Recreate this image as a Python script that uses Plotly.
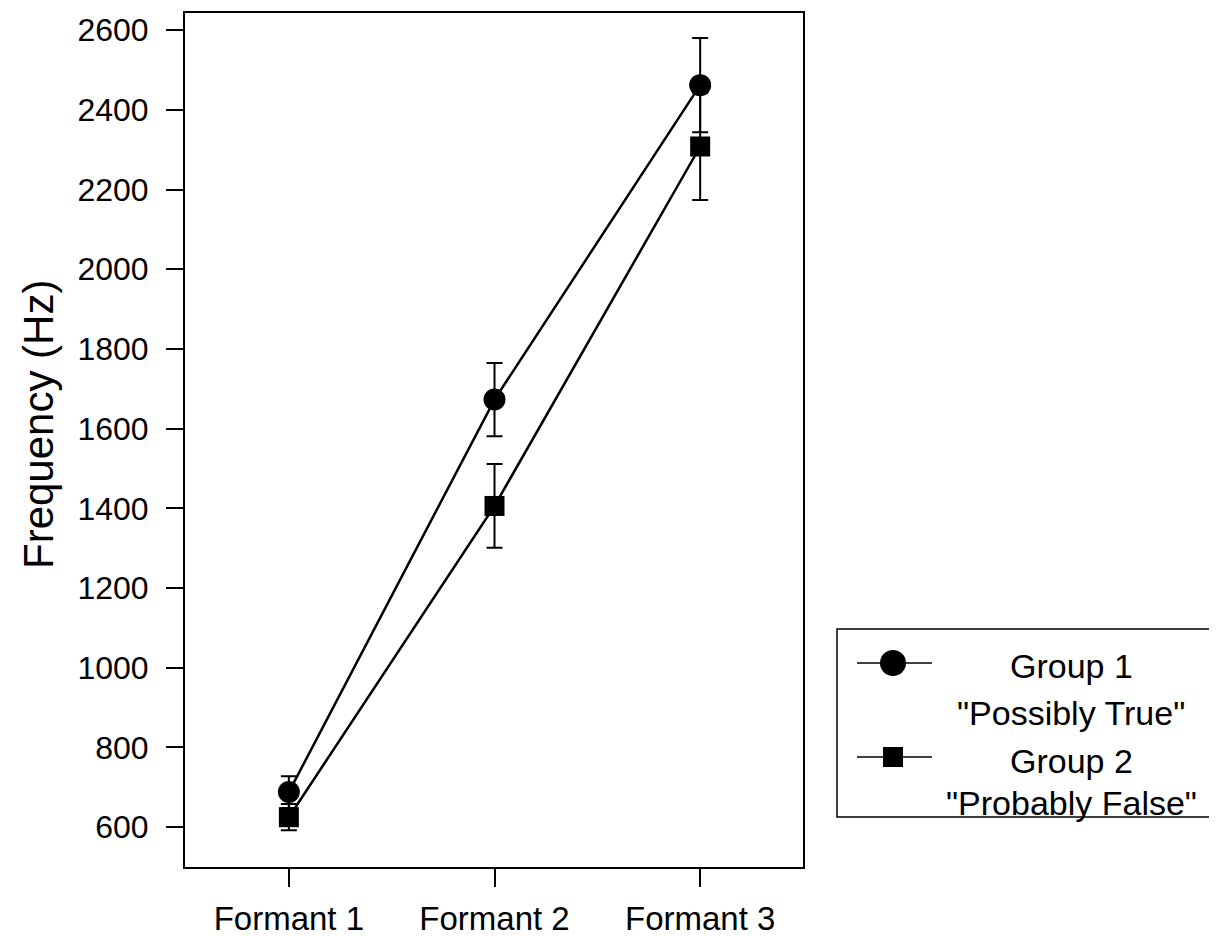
import plotly.graph_objects as go

categories = ["Formant 1", "Formant 2", "Formant 3"]
group1_mean = [688, 1673, 2462]
group1_err = [40, 92, 118]
group2_mean = [625, 1406, 2308]
group2_err = [33, 105, 134]
y_ticks = [600, 800, 1000, 1200, 1400, 1600, 1800, 2000, 2200, 2400, 2600]
legend_labels = [("Group 1", '"Possibly True"'), ("Group 2", '"Probably False"')]

FONT = "Liberation Sans, Arial, sans-serif"

fig = go.Figure()
fig.add_trace(go.Scatter(
    x=categories, y=group1_mean, mode="lines+markers", name="Group 1",
    line=dict(color="black", width=2.5),
    marker=dict(symbol="circle", size=22, color="black"),
    error_y=dict(type="data", array=group1_err, visible=True, color="black", thickness=2, width=8),
    showlegend=False,
))
fig.add_trace(go.Scatter(
    x=categories, y=group2_mean, mode="lines+markers", name="Group 2",
    line=dict(color="black", width=2.5),
    marker=dict(symbol="square", size=20, color="black"),
    error_y=dict(type="data", array=group2_err, visible=True, color="black", thickness=2, width=8),
    showlegend=False,
))

# plot area geometry in screenshot pixels (page body has an 8px margin)
OFF = 8
L, R, T, B = 185, 803, 13, 867
W, H = 1217, 936
def px(xp):
    return (xp - L) / (R - L)
def py(yp):
    return (B - yp) / (B - T)

shapes = []
annotations = []
# legend box
shapes.append(dict(type="rect", xref="paper", yref="paper",
                   x0=px(837), x1=px(1240), y0=py(817), y1=py(629),
                   line=dict(color="black", width=1.5), fillcolor="white", layer="above"))
legend_rows = [(663, "circle"), (757, "square")]
for (yc, sym), (l1, l2), ytxt in zip(legend_rows, legend_labels, [(666, 713), (761, 803)]):
    shapes.append(dict(type="line", xref="paper", yref="paper",
                       x0=px(857), x1=px(932), y0=py(yc), y1=py(yc),
                       line=dict(color="black", width=1.5)))
    if sym == "circle":
        r = 13
        shapes.append(dict(type="circle", xref="paper", yref="paper",
                           x0=px(893 - r), x1=px(893 + r), y0=py(yc + r), y1=py(yc - r),
                           fillcolor="black", line=dict(color="black", width=0)))
    else:
        r = 10
        shapes.append(dict(type="rect", xref="paper", yref="paper",
                           x0=px(893 - r), x1=px(893 + r), y0=py(yc + r), y1=py(yc - r),
                           fillcolor="black", line=dict(color="black", width=0)))
    for txt, yy in zip((l1, l2), ytxt):
        annotations.append(dict(text=txt, xref="paper", yref="paper", x=px(1071), y=py(yy),
                                xanchor="center", yanchor="middle", showarrow=False,
                                font=dict(family=FONT, size=34, color="black")))

annotations.append(dict(text="Frequency (Hz)", xref="paper", yref="paper",
                        x=px(38), y=py(425), xanchor="center", yanchor="middle",
                        textangle=-90, showarrow=False,
                        font=dict(family=FONT, size=42, color="black")))

fig.update_layout(
    width=W, height=H,
    margin=dict(l=L - OFF, r=W - (R - OFF), t=T - OFF, b=H - (B - OFF), pad=0, autoexpand=False),
    paper_bgcolor="white", plot_bgcolor="white",
    font=dict(family=FONT, color="black"),
    shapes=shapes, annotations=annotations,
    showlegend=False,
)
fig.update_xaxes(
    type="category", categoryorder="array", categoryarray=categories,
    range=[-0.505, 2.5], automargin=False,
    showline=True, linecolor="black", linewidth=2, mirror=True,
    ticks="outside", ticklen=18, tickwidth=2, tickcolor="black",
    tickfont=dict(family=FONT, size=33, color="black"),
    ticklabelstandoff=3,
    showgrid=False, zeroline=False,
)
fig.update_yaxes(
    range=[500, 2643], automargin=False,
    tickvals=y_ticks, ticktext=[str(v) for v in y_ticks],
    showline=True, linecolor="black", linewidth=2, mirror=True,
    ticks="outside", ticklen=17, tickwidth=2, tickcolor="black",
    tickfont=dict(family=FONT, size=32, color="black"),
    ticklabelstandoff=11,
    showgrid=False, zeroline=False,
)

fig.write_html("out.html")
